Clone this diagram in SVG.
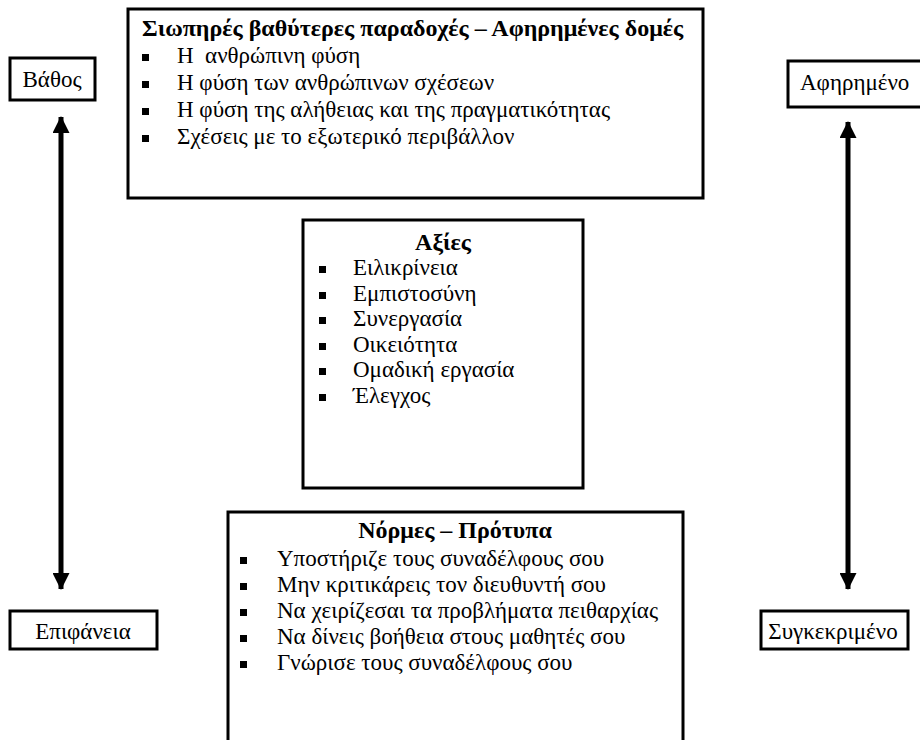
<svg xmlns="http://www.w3.org/2000/svg" width="920" height="740" viewBox="0 0 920 740">
<style>
.box{fill:#fff;stroke:#000;stroke-width:3}
.t{font-family:"Liberation Serif","Times New Roman",serif;font-size:23px;fill:#000}
.b{font-weight:bold;font-size:24px}
.c{text-anchor:middle}
.arr{stroke:#000;stroke-width:5;fill:none}
</style>
<defs>
<marker id="ah" viewBox="0 0 17 17" refX="16" refY="8.5" markerWidth="17" markerHeight="17" markerUnits="userSpaceOnUse" orient="auto-start-reverse">
<path d="M0,0 L17,8.5 L0,17 Z" fill="#000"/>
</marker>
<rect id="blt" width="7" height="7" fill="#000"/>
</defs>
<rect width="920" height="740" fill="#fff"/>
<g id="connectors">
<line class="arr" x1="61" y1="117" x2="61" y2="589" marker-start="url(#ah)" marker-end="url(#ah)"/>
<line class="arr" x1="848" y1="122" x2="848" y2="589" marker-start="url(#ah)" marker-end="url(#ah)"/>
</g>
<g id="vathos">
<rect class="box" x="10" y="58" width="85" height="42"/>
<text class="t c" x="52" y="87">Βάθος</text>
</g>
<g id="epifaneia">
<rect class="box" x="10" y="611" width="147" height="38"/>
<text class="t c" x="83" y="639">Επιφάνεια</text>
</g>
<g id="afirimeno">
<rect class="box" x="788" y="61" width="136" height="46"/>
<text class="t" x="800" y="90">Αφηρημένο</text>
</g>
<g id="sygkekrimeno">
<rect class="box" x="761" y="611" width="147" height="38"/>
<text class="t c" x="833" y="639">Συγκεκριμένο</text>
</g>
<g id="assumptions">
<rect class="box" x="128" y="9" width="575" height="189"/>
<text class="t b" x="142" y="36">Σιωπηρές βαθύτερες παραδοχές – Αφηρημένες δομές</text>
<use href="#blt" x="142" y="54"/>
<text class="t" x="177" y="63" xml:space="preserve">Η  ανθρώπινη φύση</text>
<use href="#blt" x="142" y="81"/>
<text class="t" x="177" y="90">Η φύση των ανθρώπινων σχέσεων</text>
<use href="#blt" x="142" y="108"/>
<text class="t" x="177" y="117">Η φύση της αλήθειας και της πραγματικότητας</text>
<use href="#blt" x="142" y="135"/>
<text class="t" x="177" y="144">Σχέσεις με το εξωτερικό περιβάλλον</text>
</g>
<g id="values">
<rect class="box" x="303" y="220" width="280" height="268"/>
<text class="t b c" x="443" y="250">Αξίες</text>
<use href="#blt" x="319" y="266"/>
<text class="t" x="353" y="275">Ειλικρίνεια</text>
<use href="#blt" x="319" y="292"/>
<text class="t" x="353" y="301">Εμπιστοσύνη</text>
<use href="#blt" x="319" y="317"/>
<text class="t" x="353" y="326">Συνεργασία</text>
<use href="#blt" x="319" y="343"/>
<text class="t" x="353" y="352">Οικειότητα</text>
<use href="#blt" x="319" y="368"/>
<text class="t" x="353" y="377">Ομαδική εργασία</text>
<use href="#blt" x="319" y="394"/>
<text class="t" x="353" y="403">Έλεγχος</text>
</g>
<g id="norms">
<rect class="box" x="228" y="512" width="455" height="240"/>
<text class="t b c" x="455" y="538">Νόρμες – Πρότυπα</text>
<use href="#blt" x="240" y="557"/>
<text class="t" x="277" y="566">Υποστήριζε τους συναδέλφους σου</text>
<use href="#blt" x="240" y="583"/>
<text class="t" x="277" y="592">Μην κριτικάρεις τον διευθυντή σου</text>
<use href="#blt" x="240" y="609"/>
<text class="t" x="277" y="618">Να χειρίζεσαι τα προβλήματα πειθαρχίας</text>
<use href="#blt" x="240" y="635"/>
<text class="t" x="277" y="644">Να δίνεις βοήθεια στους μαθητές σου</text>
<use href="#blt" x="240" y="661"/>
<text class="t" x="277" y="670">Γνώρισε τους συναδέλφους σου</text>
</g>
</svg>
